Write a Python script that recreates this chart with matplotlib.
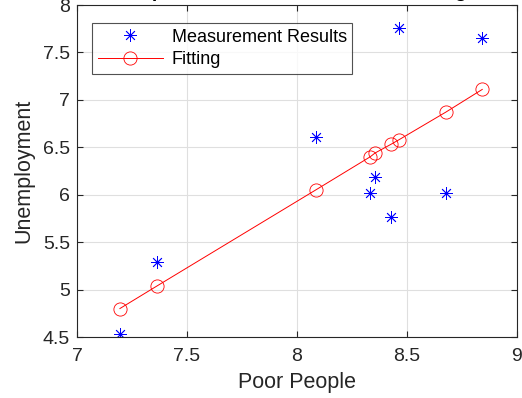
import numpy as np
import matplotlib
matplotlib.use('Agg')
import matplotlib.pyplot as plt

# 数据
poor = [7.195, 7.365, 8.085, 8.333, 8.355, 8.426, 8.464, 8.676, 8.842]
unemp = [4.53, 5.29, 6.61, 6.015, 6.19, 5.76, 7.76, 6.02, 7.65]
fit = [4.80, 5.04, 6.05, 6.40, 6.44, 6.53, 6.58, 6.87, 7.11]

xticks = [7, 7.5, 8, 8.5, 9]
yticks = [4.5, 5, 5.5, 6, 6.5, 7, 7.5, 8]

plt.rcParams['font.family'] = ['Liberation Sans', 'DejaVu Sans']
txt = '#262626'

fig = plt.figure(figsize=(5.22, 3.98), dpi=100)
ax = fig.add_axes([77 / 522, 1 - 337 / 398, 440 / 522, 332 / 398])

ax.plot(poor, unemp, linestyle='none', marker=(8, 2, 0), color='#0000ff',
        markersize=9, markeredgewidth=0.6, label='Measurement Results')
ax.plot(poor, fit, '-', color='#ff0000', linewidth=0.7, marker='o',
        markersize=9.5, markerfacecolor='none', markeredgewidth=0.6,
        label='Fitting')

ax.set_xlim(7, 9)
ax.set_ylim(4.5, 8)
ax.set_xticks(xticks)
ax.set_yticks(yticks)
ax.set_xticklabels(['7', '7.5', '8', '8.5', '9'])
ax.set_yticklabels(['4.5', '5', '5.5', '6', '6.5', '7', '7.5', '8'])
ax.grid(True, color='#dfdfdf', linewidth=0.8)
ax.set_axisbelow(True)
ax.tick_params(direction='in', length=4, width=0.8, colors=txt,
               labelsize=14, top=True, right=True)
ax.tick_params(axis='x', pad=8)
ax.tick_params(axis='y', pad=5)
for s in ax.spines.values():
    s.set_color(txt)
    s.set_linewidth(0.8)

ax.set_xlabel('Poor People', fontsize=15.5, color=txt, labelpad=5)
ax.set_ylabel('Unemployment', fontsize=15.5, color=txt, labelpad=6)
ax.set_title('Experimental Data and Linear Fitting', fontsize=14,
             fontweight='bold', color='black', pad=6)

leg = ax.legend(loc='upper left', bbox_to_anchor=(0.035, 0.945),
                fontsize=13, frameon=True, fancybox=False,
                edgecolor=txt, handlelength=3.6, borderpad=0.3,
                labelspacing=0.3, handletextpad=0.5, borderaxespad=0)
leg.get_frame().set_linewidth(0.8)
for t in leg.get_texts():
    t.set_color('black')

fig.savefig('out.png', dpi=100)
